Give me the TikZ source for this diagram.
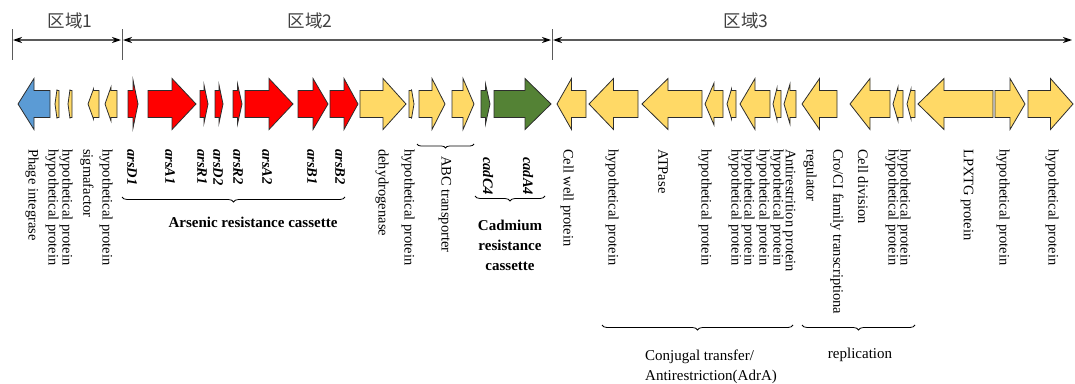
\documentclass[tikz,border=0pt]{standalone}
\usepackage{fontspec}
\setmainfont{Liberation Serif}
\newfontfamily\cjkfont{Noto Sans CJK SC}
\usetikzlibrary{arrows.meta,decorations.pathreplacing,calc}
\definecolor{genblue}{RGB}{91,155,213}
\definecolor{genyellow}{RGB}{255,217,102}
\definecolor{genred}{RGB}{255,0,0}
\definecolor{gengreen}{RGB}{84,130,53}
\definecolor{genline}{RGB}{45,45,45}
\definecolor{regline}{RGB}{90,90,90}

\begin{document}
\begin{tikzpicture}[x=1pt,y=-1pt,
    gene/.style={draw=genline,line width=0.8pt},
    lab/.style={rotate=-90,anchor=west,inner sep=0pt,font=\fontsize{14.5}{16}\selectfont},
    arslab/.style={lab,font=\fontsize{14.5}{16}\selectfont\bfseries\itshape},
    grp/.style={inner sep=0pt,font=\fontsize{15}{20}\selectfont,align=center},
    cas/.style={decorate,decoration={brace,mirror,amplitude=5pt},line width=0.8pt},
    reg/.style={draw=regline,line width=1.2pt,shorten <=1pt,shorten >=1pt,
        {Stealth[length=9pt,width=6pt,black]}-{Stealth[length=9pt,width=6pt,black]}},
    regtick/.style={draw=regline,line width=1pt},
    regname/.style={font=\cjkfont\fontsize{17.5}{20}\selectfont,text=black!75,inner sep=0pt}]
    \useasboundingbox (0,0) rectangle (1075,383);

    \coordinate (r0) at (12,40);
    \coordinate (r1) at (122,40);
    \coordinate (r2) at (552,40);
    \coordinate (r3) at (1073,40);
    \draw[regtick] (12,29) -- (12,60);
    \draw[regtick] (122,29) -- (122,60);
    \draw[regtick] (552,29) -- (552,60);
    \draw[reg] (r0) -- (r1);
    \draw[reg] (r1) -- (r2);
    \draw[reg] (r2) -- (r3);
    \node[regname] (reg1) at (70,21) {区域1};
    \node[regname] (reg2) at (310,21) {区域2};
    \node[regname] (reg3) at (746,21) {区域3};

    \foreach \ta/\tb/\fc/\hh in {
        50/18/genblue/25.5, 59/55/genyellow/14.5, 72/68/genyellow/14.5, 99/88/genyellow/15, 117/105/genyellow/17,
        128/138/genred/24, 148/196/genred/25.5, 200/208/genred/19, 215/223/genred/19, 233/242/genred/20,
        245/293/genred/25.5, 298/328/genred/25.5, 330/358/genred/25.5,
        360/406/genyellow/25.5, 409/414/genyellow/14.5, 419/445/genyellow/25.5, 452/474/genyellow/25.5,
        481/490/gengreen/20, 494/551/gengreen/25.5,
        586/557/genyellow/25.5, 638/589/genyellow/25.5, 702/642/genyellow/25.5, 723/705/genyellow/21,
        736/727/genyellow/15, 770/740/genyellow/25.5, 781/773/genyellow/16, 796/784/genyellow/20,
        837/802/genyellow/25.5, 890/850/genyellow/25.5, 903/893/genyellow/17, 915/907/genyellow/15,
        993/918/genyellow/25.5, 995/1025/genyellow/25.5, 1028/1073/genyellow/25.5}
    {
        \pgfmathsetmacro\hb{\tb-sign(\tb-\ta)*min(abs(\tb-\ta)/2,26)}
        \draw[gene,fill=\fc] (\ta,90.5) -- (\hb,90.5) -- (\hb,104-\hh) -- (\tb,104)
            -- (\hb,104+\hh) -- (\hb,117.5) -- (\ta,117.5) -- cycle;
    }

    \foreach \lx/\lt [count=\i] in {32/Phage integrase, 52/hypothetical protein, 66/hypothetical protein,
        87/sigmafactor, 106/hypothetical protein, 382/dehydrogenase, 408/hypothetical protein,
        567/Cell well protein, 612/hypothetical protein, 663/ATPase, 705/hypothetical protein,
        735/hypothetical protein, 748/hypothetical protein, 763/hypothetical protein,
        777/hypothetical protein, 789/Antirestrition protein, 810/regulator, 863/Cell division,
        892/hypothetical protein, 904/hypothetical protein, 967/LPXTG protein,
        1003/hypothetical protein, 1052/hypothetical protein}
        \node[lab] (lab\i) at (\lx,149) {\lt};
    \node[lab] (crolab) at (837,149) {Cro/CI family transcriptiona};
    \node[lab] (abclab) at (445,156) {ABC transporter};

    \foreach \lx/\lt in {132/arsD1, 170/arsA1, 202/arsR1, 218/arsD2, 238/arsR2, 267/arsA2, 312/arsB1, 340/arsB2}
        \node[arslab] (\lt) at (\lx,149) {\lt};
    \foreach \lx/\lt in {488/cadC4, 528/cadA4}
        \node[arslab] (\lt) at (\lx,157) {\lt};

    \coordinate (arsL) at (122,197);
    \coordinate (arsR) at (345,197);
    \draw[cas] (arsL) -- (arsR);
    \node[grp,font=\fontsize{15}{20}\selectfont\bfseries] (arscas) at (253,222) {Arsenic resistance cassette};

    \coordinate (abcL) at (417,144);
    \coordinate (abcR) at (474,144);
    \draw[cas,decoration={amplitude=4pt}] (abcL) -- (abcR);

    \coordinate (cadL) at (475,196);
    \coordinate (cadR) at (545,196);
    \draw[cas] (cadL) -- (cadR);
    \node[grp,font=\fontsize{15}{20}\selectfont\bfseries] (cadcas) at (510,245) {Cadmium\\resistance\\cassette};

    \coordinate (conL) at (602,325);
    \coordinate (conR) at (793,325);
    \draw[cas] (conL) -- (conR);
    \node[grp,anchor=west] (conj1) at (645,357) {Conjugal transfer/};
    \node[grp,anchor=west] (conj2) at (645,377) {Antirestriction(AdrA)};

    \coordinate (repL) at (802,325);
    \coordinate (repR) at (915,325);
    \draw[cas] (repL) -- (repR);
    \node[grp] (repl) at (860,355) {replication};
\end{tikzpicture}
\end{document}
